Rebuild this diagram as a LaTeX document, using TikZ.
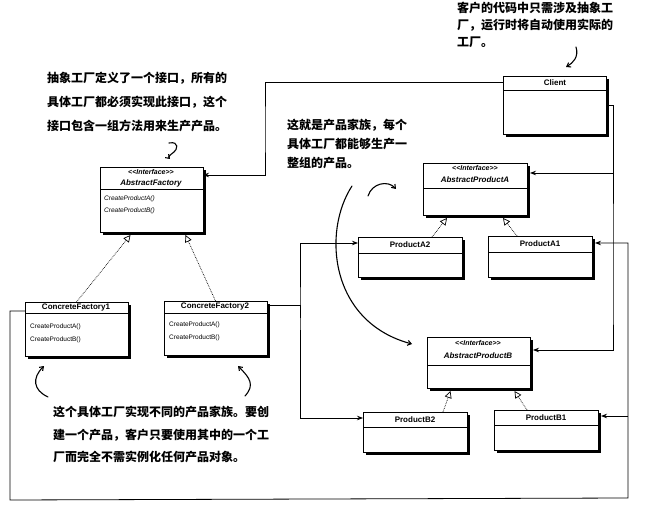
\documentclass[tikz,border=0pt]{standalone}
\usepackage{fontspec}
\setmainfont{Liberation Sans}
\newfontfamily\cjk{Noto Sans CJK SC}
\usetikzlibrary{arrows.meta}
\newcommand{\umlbox}[6]{%
  \node[umlbox, minimum width=#4pt, minimum height=#5pt, anchor=north west] (#1) at (#2,#3) {};
  \fill[black] ([yshift=-3pt]#1.north east) rectangle ([xshift=3.2pt,yshift=-3.2pt]#1.south east);
  \fill[black] ([xshift=3pt]#1.south west) rectangle ([xshift=3.2pt,yshift=-3.2pt]#1.south east);
  \draw[line width=0.6pt] ([yshift=-#6pt]#1.north west) -- ([yshift=-#6pt]#1.north east);}
\begin{document}
\begin{tikzpicture}[x=1pt,y=-1pt,
  umlbox/.style={draw=black, line width=0.7pt, fill=white, inner sep=0pt, outer sep=0pt},
  cname/.style={font=\fontsize{8}{9}\selectfont\bfseries, inner sep=0pt},
  iname/.style={font=\fontsize{8}{9}\selectfont\bfseries\itshape, inner sep=0pt},
  sname/.style={font=\fontsize{7}{8}\selectfont\bfseries\itshape, inner sep=0pt},
  meth/.style={font=\fontsize{6.5}{7}\selectfont, inner sep=0pt, anchor=west},
  imeth/.style={font=\fontsize{6.5}{7}\selectfont\itshape, inner sep=0pt, anchor=west},
  note/.style={align=left, inner sep=0pt, anchor=north west},
  assoc/.style={line width=0.8pt, -{Stealth[length=6pt,width=4.5pt]}},
  real/.style={densely dotted, line width=0.7pt, -{Triangle[length=7pt,width=7pt,fill=white,line width=0.7pt]}},
  hand/.style={line width=1.1pt, line cap=round, -{Straight Barb[length=3.5pt,width=5pt]}}]
\useasboundingbox (0,0) rectangle (650,518);
\fill[white] (0,0) rectangle (650,518);

% boxes
\umlbox{client}{503}{76}{103}{58}{14}
\umlbox{af}{100}{167}{103}{65}{22}
\umlbox{cf1}{25}{302}{103}{54}{11}
\umlbox{cf2}{164}{301}{103}{54}{12}
\umlbox{apa}{423}{163}{104}{52}{25}
\umlbox{apb}{427}{337}{103}{51}{28}
\umlbox{pa2}{358}{237}{104}{40}{16}
\umlbox{pa1}{488}{236}{104}{41}{16}
\umlbox{pb2}{363}{412}{104}{40}{15}
\umlbox{pb1}{494}{410}{104}{40}{15}

% box texts
\node[cname] (clientN) at (555,83) {Client};
\node[sname] (afS) at (151,172) {<\kern0pt<Interface>\kern0pt>};
\node[iname] (afN) at (151,183) {AbstractFactory};
\node[imeth] (afM1) at (104,199) {CreateProductA()};
\node[imeth] (afM2) at (104,211) {CreateProductB()};
\node[cname] (cf1N) at (76,308) {ConcreteFactory1};
\node[meth] (cf1M1) at (30,327) {CreateProductA()};
\node[meth] (cf1M2) at (30,340) {CreateProductB()};
\node[cname] (cf2N) at (215,307) {ConcreteFactory2};
\node[meth] (cf2M1) at (169,325) {CreateProductA()};
\node[meth] (cf2M2) at (169,338) {CreateProductB()};
\node[sname] (apaS) at (475,168) {<\kern0pt<Interface>\kern0pt>};
\node[iname] (apaN) at (475,180) {AbstractProductA};
\node[sname] (apbS) at (478,343) {<\kern0pt<Interface>\kern0pt>};
\node[iname] (apbN) at (478,356) {AbstractProductB};
\node[cname] (pa2N) at (410,245) {ProductA2};
\node[cname] (pa1N) at (540,244) {ProductA1};
\node[cname] (pb2N) at (415,420) {ProductB2};
\node[cname] (pb1N) at (546,418) {ProductB1};

% connectors: client
\coordinate (k1) at (265,130);
\draw[assoc] ([yshift=-6pt]client.north west) -| (k1) |- ([yshift=-8pt]af.north east);
\coordinate (k3) at (613,300);
\draw[assoc] ([xshift=3.2pt,yshift=-29pt]client.north east) -| (k3) |- ([xshift=3pt,yshift=-13pt]apb.north east);
\coordinate (k4) at (613,173);
\draw[assoc] (k4) -- ([xshift=3pt,yshift=-10pt]apa.north east);

% concrete factory 2
\coordinate (k5) at (300,330);
\draw[assoc] ([xshift=3pt,yshift=-4pt]cf2.north east) -| (k5) |- ([yshift=-6pt]pa2.north west);
\draw[assoc] (k5) |- ([yshift=-6pt]pb2.north west);

% concrete factory 1
\coordinate (k6) at (10,500);
\coordinate (k7) at (628,498);
\draw[assoc] ([yshift=-9pt]cf1.north west) -| (k6) -- (k7) |- ([xshift=3pt,yshift=-7pt]pa1.north east);
\coordinate (k8) at (628,416);
\draw[assoc] (k8) -- ([xshift=3pt,yshift=-6pt]pb1.north east);

% realizations
\draw[real] (cf1.north) -- ([xshift=-21pt,yshift=-3pt]af.south);
\draw[real] (cf2.north) -- ([xshift=34pt,yshift=-3pt]af.south);
\draw[real] ([xshift=22pt]pa2.north) -- ([xshift=-28pt,yshift=-3pt]apa.south);
\draw[real] ([xshift=-23pt]pa1.north) -- ([xshift=28pt,yshift=-3pt]apa.south);
\draw[real] ([xshift=28pt]pb2.north) -- ([xshift=-28pt,yshift=-3pt]apb.south);
\draw[real] ([xshift=-19pt]pb1.north) -- ([xshift=36pt,yshift=-3pt]apb.south);

% notes
\node[note, font=\cjk\bfseries\fontsize{12}{17}\selectfont] (noteClient) at (457,2)
  {客户的代码中只需涉及抽象工\\厂，运行时将自动使用实际的\\工厂。};
\node[note, font=\cjk\bfseries\fontsize{12}{24}\selectfont] (noteAF) at (47,72)
  {抽象工厂定义了一个接口，所有的\\具体工厂都必须实现此接口，这个\\接口包含一组方法用来生产产品。};
\node[note, font=\cjk\bfseries\fontsize{12}{19}\selectfont] (noteFam) at (287,119)
  {这就是产品家族，每个\\具体工厂都能够生产一\\整组的产品。};
\node[note, font=\cjk\bfseries\fontsize{12}{22.5}\selectfont] (noteCF) at (53,406)
  {这个具体工厂实现不同的产品家族。要创\\建一个产品，客户只要使用其中的一个工\\厂而完全不需实例化任何产品对象。};

% hand-drawn arrows
\coordinate (h1a) at (576,47); \coordinate (h1b) at (566,67);
\draw[hand] (h1a) .. controls (579,57) and (573,63) .. (h1b);
\coordinate (h2a) at (169,143); \coordinate (h2b) at (170,159);
\draw[hand] (h2a) .. controls (180,141) and (177,150) .. (174,152) .. controls (170,155) and (168,157) .. (h2b);
\coordinate (h3a) at (368,196); \coordinate (h3b) at (396,189);
\draw[hand] (h3a) .. controls (372,183) and (388,180) .. (h3b);
\coordinate (h4a) at (352,186); \coordinate (h4b) at (412,344);
\draw[hand] (h4a) .. controls (322,232) and (330,322) .. (h4b);
\coordinate (h5a) at (48,397); \coordinate (h5b) at (44,366);
\draw[hand] (h5a) .. controls (33,390) and (32,378) .. (h5b);
\coordinate (h6a) at (245,396); \coordinate (h6b) at (238,366);
\draw[hand] (h6a) .. controls (255,385) and (250,378) .. (h6b);
\end{tikzpicture}
\end{document}
